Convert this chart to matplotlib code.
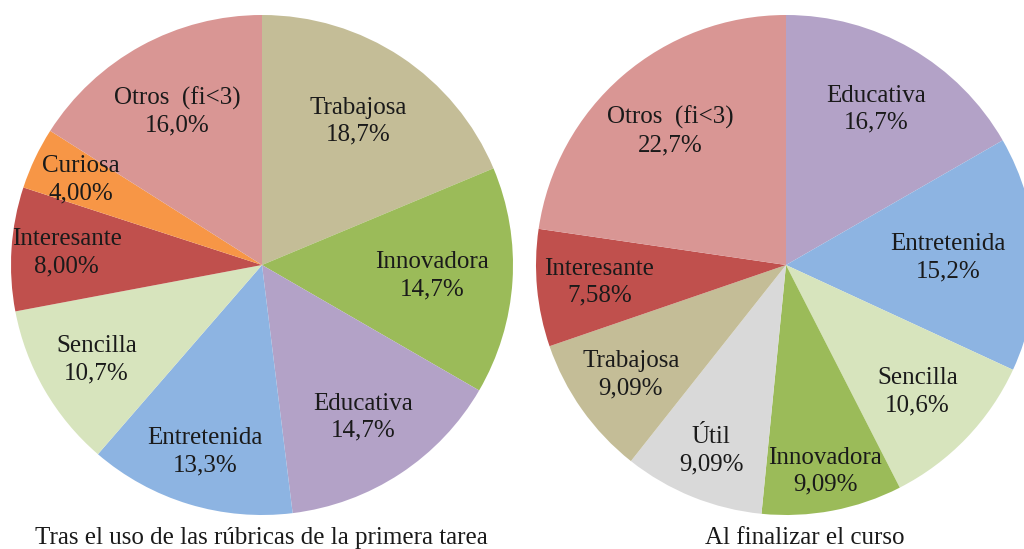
import numpy as np
import matplotlib.pyplot as plt

plt.rcParams['font.family'] = ['Liberation Serif', 'DejaVu Serif']

# Tras el uso de las rubricas de la primera tarea
labels_1 = ["Trabajosa", "Innovadora", "Educativa", "Entretenida",
            "Sencilla", "Interesante", "Curiosa", "Otros  (fi<3)"]
values_1 = [18.7, 14.7, 14.7, 13.3, 10.7, 8.00, 4.00, 16.0]
pct_1 = ["18,7%", "14,7%", "14,7%", "13,3%", "10,7%", "8,00%", "4,00%", "16,0%"]

# Al finalizar el curso
labels_2 = ["Educativa", "Entretenida", "Sencilla", "Innovadora",
            "Útil", "Trabajosa", "Interesante", "Otros  (fi<3)"]
values_2 = [16.7, 15.2, 10.6, 9.09, 9.09, 9.09, 7.58, 22.7]
pct_2 = ["16,7%", "15,2%", "10,6%", "9,09%", "9,09%", "9,09%", "7,58%", "22,7%"]

colors = {
    "Trabajosa": "#C4BD97",
    "Innovadora": "#9BBB59",
    "Educativa": "#B3A2C7",
    "Entretenida": "#8DB4E2",
    "Sencilla": "#D7E4BD",
    "Interesante": "#C0504D",
    "Curiosa": "#F79646",
    "Otros  (fi<3)": "#D99694",
    "Útil": "#D9D9D9",
}

W, H = 1024, 549
fig = plt.figure(figsize=(W / 100, H / 100), dpi=100)


def draw_pie(box, labels, values, pcts, dists, title, title_x):
    ax = fig.add_axes(box)
    wedges, _ = ax.pie(values, colors=[colors[l] for l in labels],
                       startangle=90, counterclock=False, radius=1,
                       wedgeprops=dict(linewidth=0))
    ax.set_aspect('auto')
    ax.set_xlim(-1, 1)
    ax.set_ylim(-1, 1)
    for w, lab, p, d in zip(wedges, labels, pcts, dists):
        ang = np.deg2rad((w.theta1 + w.theta2) / 2)
        ax.text(d * np.cos(ang), d * np.sin(ang), f"{lab}\n{p}",
                ha='center', va='center', fontsize=18, color='#1a1a1a',
                linespacing=1.3)
    fig.text(title_x / W, 1 - 538 / H, title, ha='center', va='center',
             fontsize=18, color='#1a1a1a')


draw_pie([11 / W, (H - 515) / H, 502 / W, 500 / H],
         labels_1, values_1, pct_1,
         [0.69, 0.68, 0.73, 0.78, 0.76, 0.78, 0.80, 0.70],
         "Tras el uso de las rúbricas de la primera tarea", 261)

draw_pie([536 / W, (H - 515) / H, 500 / W, 500 / H],
         labels_2, values_2, pct_2,
         [0.72, 0.65, 0.73, 0.84, 0.80, 0.76, 0.75, 0.71],
         "Al finalizar el curso", 805)

fig.savefig("out.png", dpi=100)
